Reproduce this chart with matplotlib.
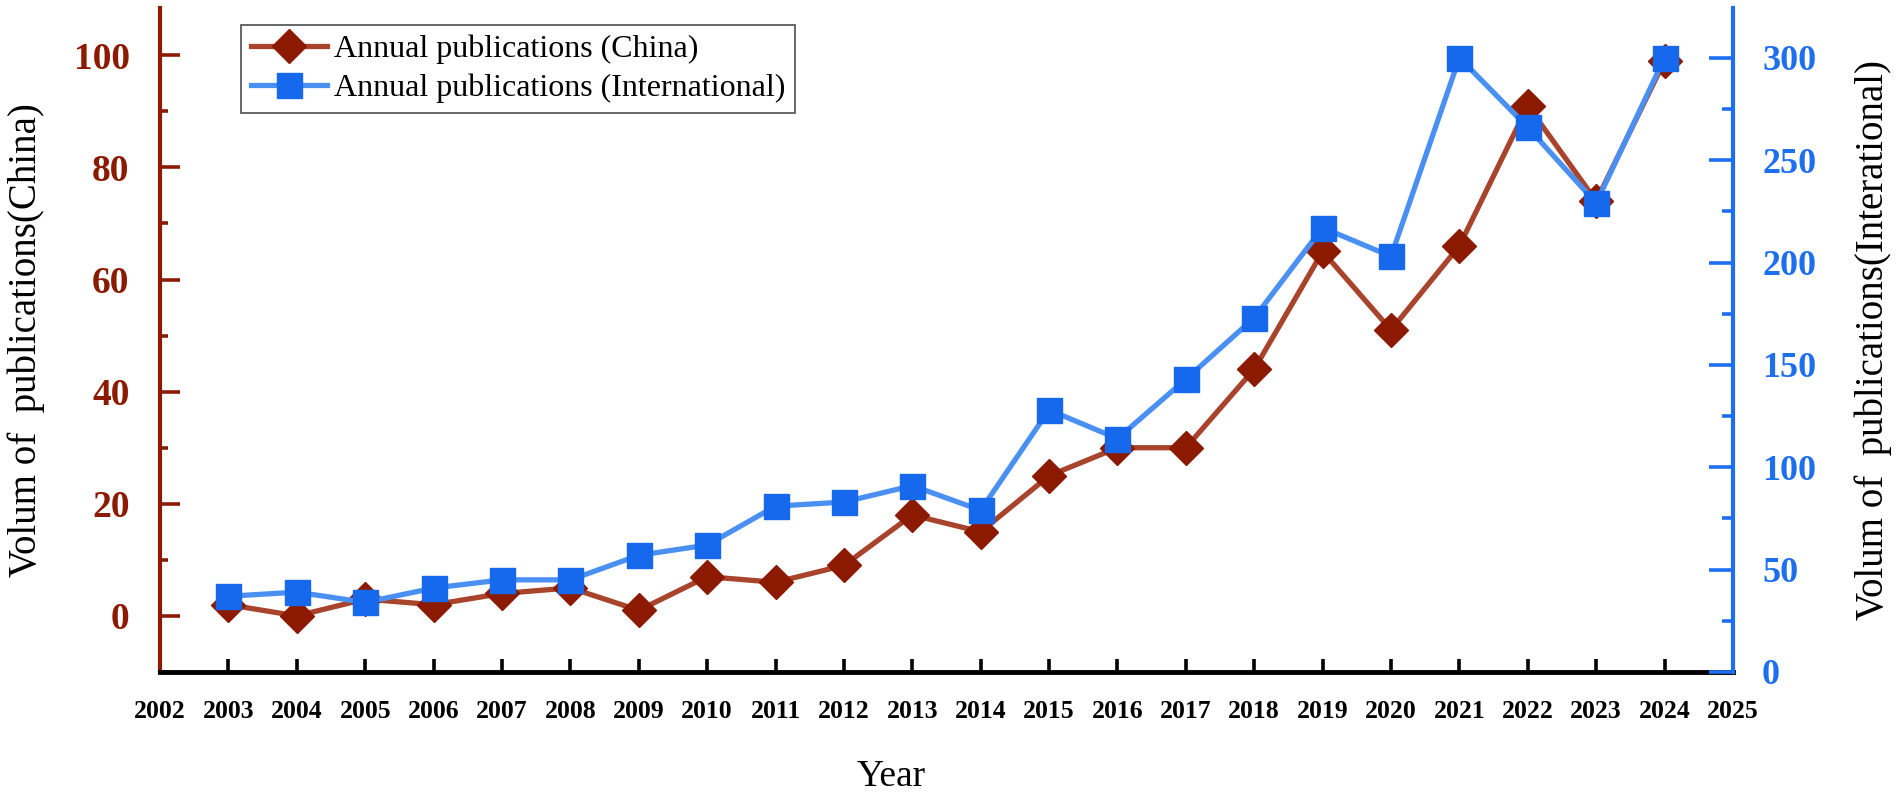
import matplotlib
matplotlib.use("Agg")
import matplotlib.pyplot as plt

plt.rcParams['font.family'] = ['Liberation Serif', 'DejaVu Serif']

# ---- data ----
years = list(range(2003, 2025))
china = [2, 0, 3, 2, 4, 5, 1, 7, 6, 9, 18, 15, 25, 30, 30, 44, 65, 51, 66, 91, 74, 99]
intl = [37, 39, 34, 41, 45, 45, 57, 62, 81, 83, 91, 79, 128, 114, 143, 173, 217, 203, 300, 266, 229, 300]
xtick_years = list(range(2002, 2026))
long_tick_years = [2005, 2010, 2015, 2020]
left_major = [0, 20, 40, 60, 80, 100]
left_minor = [-10, 10, 30, 50, 70, 90]
right_major = [0, 50, 100, 150, 200, 250, 300]
right_minor = [25, 75, 125, 175, 225, 275]
label_china = "Annual publications (China)"
label_intl = "Annual publications (International)"

RED = '#8B1A00'
RED_LINE = '#A8432C'
BLUE = '#1668EC'
BLUE_LINE = '#4A90F2'
BLUE_AX = '#1E6FF0'

fig = plt.figure(figsize=(19.01, 7.93), dpi=100)
ax = fig.add_axes([0.0842, 0.1526, 0.8274, 0.8378])
ax2 = ax.twinx()

l1, = ax.plot(years, china, color=RED_LINE, lw=3.8, marker='D', ms=17.5,
              mfc=RED, mec=RED, zorder=3, label=label_china)
l2, = ax2.plot(years, intl, color=BLUE_LINE, lw=3.8, marker='s', ms=18,
               mfc=BLUE, mec=BLUE, zorder=3, label=label_intl)

ax.set_xlim(2002, 2025)
ax.set_ylim(-10, 108.5)
ax2.set_ylim(0, 324.5)

# spines
for s in ['top', 'right']:
    ax.spines[s].set_visible(False)
for s in ['top', 'left', 'bottom']:
    ax2.spines[s].set_visible(False)
ax.spines['left'].set_color(RED)
ax.spines['left'].set_linewidth(3)
ax.spines['bottom'].set_color('black')
ax.spines['bottom'].set_linewidth(3.5)
ax2.spines['right'].set_color(BLUE_AX)
ax2.spines['right'].set_linewidth(3)

# x ticks
ax.set_xticks(xtick_years, [str(y) for y in xtick_years], fontweight='bold', fontsize=18.5)
ax.set_xticks(long_tick_years, minor=True)
ax.tick_params(axis='x', which='major', direction='in', length=9.5, width=2.6,
               color='black', pad=20)
ax.tick_params(axis='x', which='minor', direction='in', length=17.5, width=2.6,
               color='black')
xt = ax.xaxis.get_major_ticks()
xt[0].tick1line.set_visible(False)
xt[-1].tick1line.set_visible(False)

# left y ticks
ax.set_yticks(left_major, [str(v) for v in left_major], fontweight='bold', fontsize=27)
ax.set_yticks(left_minor, minor=True)
ax.tick_params(axis='y', which='major', direction='in', length=14.5, width=2.6,
               colors=RED, pad=22)
ax.tick_params(axis='y', which='minor', direction='in', length=6, width=2.6,
               colors=RED)

# right y ticks
ax2.set_yticks(right_major, [str(v) for v in right_major], fontweight='bold', fontsize=26)
ax2.set_yticks(right_minor, minor=True)
ax2.tick_params(axis='y', which='major', direction='in', length=17, width=2.6,
                colors=BLUE_AX, pad=21)
ax2.tick_params(axis='y', which='minor', direction='in', length=8, width=2.6,
                colors=BLUE_AX)

# axis labels
ax.set_ylabel("Volum of  publications(China)", fontsize=28, ha='center', va='center')
ax.yaxis.set_label_coords(-0.0852, 0.5)
ax2.set_ylabel("Volum of  publications(Interational)", fontsize=28, ha='center', va='center')
ax2.yaxis.set_label_coords(1.089, 0.5)
ax.set_xlabel("Year", fontsize=27, ha='center', va='center')
ax.xaxis.set_label_coords(0.465, -0.157)

leg = ax2.legend([l1, l2], [label_china, label_intl], loc='upper left',
                 bbox_to_anchor=(0.1268, 0.9685), bbox_transform=fig.transFigure,
                 borderaxespad=0, fontsize=23, frameon=True, fancybox=False,
                 edgecolor='#333333', handlelength=2.4, handletextpad=0.2,
                 borderpad=0.3, labelspacing=0.3)
leg.get_frame().set_linewidth(1.3)
leg.set_zorder(10)

fig.savefig("out.png", dpi=100)
